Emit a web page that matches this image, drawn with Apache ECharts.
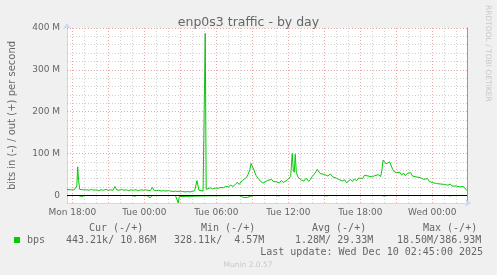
<!DOCTYPE html>
<html><head><meta charset="utf-8">
<script src="https://cdn.jsdelivr.net/npm/echarts@6/dist/echarts.min.js"></script>
<style>html,body{margin:0;padding:0;background:#F0F0F0}#c{width:497px;height:275px}</style>
</head><body><div id="c"></div><script>
// ---- data (hours after Mon 18:00, values in M bits/s) ----
const chartTitle = 'enp0s3 traffic - by day';
const yAxisName = 'bits in (-) / out (+) per second';
const xTickHours = [0, 6, 12, 18, 24, 30];
const xTickLabels = ['Mon 18:00', 'Tue 00:00', 'Tue 06:00', 'Tue 12:00', 'Tue 18:00', 'Wed 00:00'];
const yTickValues = [0, 100, 200, 300, 400];
const outPoints = [
[-0.44,14],[-0.3,16],[-0.15,13],[0,15],[0.15,13],[0.3,17],[0.38,22],[0.45,68],[0.53,35],[0.62,14],[0.75,12],[0.9,13],[1.0,12],[1.2,13],[1.4,12],[1.6,14],[1.8,12],[2.0,13],[2.2,11],[2.4,13],[2.6,12],[2.8,14],[3.0,12],[3.2,13],[3.4,12],[3.56,21],[3.7,13],[3.9,12],[4.1,14],[4.3,12],[4.5,13],[4.7,11],[4.9,13],[5.1,12],[5.3,13],[5.5,11],[5.7,13],[5.9,12],[6.1,13],[6.3,12],[6.5,11],[6.67,19],[6.8,12],[7.0,11],[7.2,12],[7.4,10],[7.6,11],[7.8,10],[8.0,11],[8.2,10],[8.4,9],[8.6,10],[8.8,9],[9.0,10],[9.2,9],[9.4,8],[9.6,9],[9.8,8],[10.0,9],[10.2,11],[10.39,35],[10.55,12],[10.7,9],[10.9,10],[11.0,9],[11.08,387],[11.16,14],[11.3,16],[11.5,18],[11.7,15],[11.9,17],[12.0,19],[12.2,17],[12.4,19],[12.6,18],[12.8,21],[13.0,20],[13.2,24],[13.4,21],[13.6,26],[13.75,31],[13.9,26],[14.05,30],[14.2,36],[14.35,33],[14.5,42],[14.65,50],[14.8,62],[14.9,76],[15.0,72],[15.15,60],[15.3,48],[15.5,40],[15.7,33],[15.9,29],[16.05,31],[16.25,35],[16.4,31],[16.6,38],[16.75,33],[16.9,36],[17.05,32],[17.25,29],[17.4,35],[17.6,31],[17.75,28],[17.9,36],[18.05,40],[18.2,45],[18.33,100],[18.42,60],[18.5,55],[18.58,98],[18.67,55],[18.8,44],[18.95,40],[19.1,36],[19.3,34],[19.5,41],[19.7,33],[19.85,38],[20.0,45],[20.15,50],[20.3,56],[20.4,62],[20.5,58],[20.65,52],[20.8,56],[21.0,50],[21.15,54],[21.3,46],[21.5,51],[21.7,44],[21.85,48],[22.0,41],[22.2,38],[22.35,42],[22.5,34],[22.7,37],[22.85,30],[23.0,34],[23.2,38],[23.35,33],[23.5,39],[23.7,35],[23.85,41],[24.0,44],[24.2,40],[24.35,48],[24.5,52],[24.65,46],[24.8,49],[25.0,44],[25.2,47],[25.35,43],[25.5,49],[25.7,45],[25.8,60],[25.9,84],[26.0,80],[26.15,75],[26.3,72],[26.45,80],[26.55,76],[26.7,62],[26.8,57],[27.0,54],[27.15,50],[27.3,55],[27.45,48],[27.6,53],[27.75,47],[27.9,52],[28.05,49],[28.2,54],[28.35,46],[28.5,50],[28.65,44],[28.8,48],[29.0,42],[29.15,45],[29.3,38],[29.45,36],[29.6,40],[29.75,33],[29.9,36],[30.05,30],[30.2,33],[30.35,28],[30.5,31],[30.65,27],[30.8,30],[31.0,26],[31.15,28],[31.3,24],[31.5,27],[31.65,22],[31.8,26],[32.0,22],[32.15,25],[32.3,20],[32.45,23],[32.6,21],[32.75,24],[32.89,11]
];
const inPoints = [
[-0.44,-1.5],[-0.2,-0.6],[0.5,-0.6],[0.8,-3],[1.0,-0.5],[2.4,-0.6],[2.55,-2],[2.7,-0.5],[5.0,-0.6],[5.2,-2.5],[5.4,-0.5],[6.2,-0.8],[6.35,-3],[6.5,-6],[6.65,-0.8],[8.6,-0.6],[8.75,-4],[8.83,-18.5],[8.92,-3],[9.05,-0.6],[11.08,-1.5],[11.2,-0.5],[13.9,-0.7],[14.1,-3],[14.3,-5.5],[14.6,-5],[14.85,-2.5],[15.1,-0.6],[17.0,-0.6],[17.2,-1.5],[17.4,-0.5],[18.3,-0.6],[18.45,-2],[18.6,-0.5],[21.0,-0.6],[21.2,-1.5],[21.4,-0.5],[25.8,-0.6],[26.0,-2],[26.2,-0.6],[27.3,-0.6],[27.45,-1.8],[27.6,-0.5],[28.4,-0.6],[28.55,-1.5],[28.7,-0.5],[31.3,-0.6],[31.5,-1.5],[31.7,-0.5],[32.89,-0.4]
];
const seriesName = 'bps';
const legendHeaders = ['Cur (-/+)', 'Min (-/+)', 'Avg (-/+)', 'Max (-/+)'];
const legendValues = ['443.21k/ 10.86M', '328.11k/  4.57M', '1.28M/ 29.33M', '18.50M/386.93M'];
const lastUpdate = 'Last update: Wed Dec 10 02:45:00 2025';
const footer = 'Munin 2.0.57';
const watermark = 'RRDTOOL / TOBI OETIKER';

// ---- layout / styles ----
const X_MIN = -0.44, X_MAX = 32.893, Y_MIN = -18.5, Y_MAX = 400;
const FONT = '#666666', GREEN = '#00CC00', AXIS = '#CFD6F8';
const sans = 'DejaVu Sans', mono = 'DejaVu Sans Mono';

const minorX = [], majorX = [];
for (let h = 0; h <= 32; h++) (h % 3 === 0 ? majorX : minorX).push(h);
const minorY = [], majorY = [100, 200, 300, 400];
for (let v = 20; v < 400; v += 20) if (v % 100) minorY.push(v);

const minorStyle = {color: 'rgba(143,143,143,0.4)', width: 1, type: [1, 2]};
const majorStyle = {color: 'rgba(222,79,79,0.5)', width: 1, type: [1, 2]};
const gridLines = [
  ...minorX.map(h => ({xAxis: h, lineStyle: minorStyle})),
  ...minorY.map(v => ({yAxis: v, lineStyle: minorStyle})),
  ...majorX.map(h => ({xAxis: h, lineStyle: majorStyle})),
  ...majorY.map(v => ({yAxis: v, lineStyle: majorStyle}))
];

const legendHeaderX = [89, 201, 312, 423];
const legendValueX = [66, 174, 295, 397];
const graphics = [
  {type: 'rect', shape: {x: 14, y: 237, width: 6, height: 6}, style: {fill: GREEN}},
  {type: 'text', x: 27, y: 240, style: {text: seriesName, font: '10px ' + mono, fill: FONT, textVerticalAlign: 'middle'}},
  ...legendHeaders.map((t, i) => ({type: 'text', x: legendHeaderX[i], y: 228, style: {text: t, font: '10px ' + mono, fill: FONT, textVerticalAlign: 'middle'}})),
  ...legendValues.map((t, i) => ({type: 'text', x: legendValueX[i], y: 240, style: {text: t, font: '10px ' + mono, fill: FONT, textVerticalAlign: 'middle'}})),
  {type: 'text', x: 483, y: 252, style: {text: lastUpdate, font: '10px ' + mono, fill: FONT, textAlign: 'right', textVerticalAlign: 'middle'}},
  {type: 'text', x: 248, y: 265, style: {text: footer, font: '7.5px ' + sans, fill: '#C8C8C8', textAlign: 'center', textVerticalAlign: 'middle'}},
  {type: 'text', x: 488, y: 5, rotation: -Math.PI / 2, style: {text: watermark, font: '7.5px ' + sans, fill: '#C8C8C8', textAlign: 'left', textVerticalAlign: 'middle'}}
];

const chart = echarts.init(document.getElementById('c'), null, {renderer: 'canvas'});
chart.setOption({
  animation: false,
  backgroundColor: '#F0F0F0',
  title: {text: chartTitle, left: 'center', top: 11,
    textStyle: {fontFamily: sans, fontSize: 12.5, fontWeight: 'normal', color: FONT}},
  grid: {left: 67, top: 28, width: 400, height: 175, show: true, backgroundColor: '#FFFFFF', borderWidth: 0,
    containLabel: false, outerBoundsMode: 'none'},
  xAxis: {
    type: 'value', min: X_MIN, max: X_MAX,
    axisLine: {onZero: false, lineStyle: {color: AXIS}, symbol: ['none', 'arrow'], symbolSize: [6, 6], symbolOffset: [0, 4]},
    axisTick: {show: false}, splitLine: {show: false},
    axisLabel: {customValues: xTickHours, formatter: v => xTickLabels[xTickHours.indexOf(v)] || '',
      fontFamily: sans, fontSize: 9, color: FONT, margin: 5, showMinLabel: true, showMaxLabel: true}
  },
  yAxis: [{
    type: 'value', min: Y_MIN, max: Y_MAX,
    name: yAxisName, nameLocation: 'middle', nameGap: 50, nameRotate: 90,
    nameTextStyle: {fontFamily: sans, fontSize: 10, color: FONT},
    axisLine: {show: true, onZero: false, lineStyle: {color: AXIS}, symbol: ['none', 'arrow'], symbolSize: [6, 6], symbolOffset: [0, 5]},
    axisTick: {show: false}, splitLine: {show: false},
    axisLabel: {customValues: yTickValues, formatter: v => v === 0 ? '0' : v + ' M',
      fontFamily: sans, fontSize: 9, color: FONT, margin: 7}
  }, {
    type: 'value', min: Y_MIN, max: Y_MAX, position: 'right',
    axisLine: {show: true, onZero: false, lineStyle: {color: '#999999'}},
    axisTick: {show: false}, axisLabel: {show: false}, splitLine: {show: false}
  }],
  series: [
    {type: 'line', name: 'grid', data: [], z: 1, silent: true,
      markLine: {silent: true, symbol: ['none', 'none'], label: {show: false}, animation: false, data: gridLines}},
    {type: 'line', name: seriesName, data: outPoints, z: 2, showSymbol: false, silent: true,
      lineStyle: {color: GREEN, width: 1}, itemStyle: {color: GREEN}},
    {type: 'line', name: seriesName + ' in', data: inPoints, z: 2, showSymbol: false, silent: true,
      lineStyle: {color: GREEN, width: 1}, itemStyle: {color: GREEN}},
    {type: 'line', name: 'zero', data: [], z: 3, silent: true,
      markLine: {silent: true, symbol: ['none', 'none'], label: {show: false}, animation: false,
        data: [{yAxis: 0, lineStyle: {color: '#000000', width: 1, type: 'solid'}}]}}
  ],
  graphic: graphics
});
</script></body></html>
